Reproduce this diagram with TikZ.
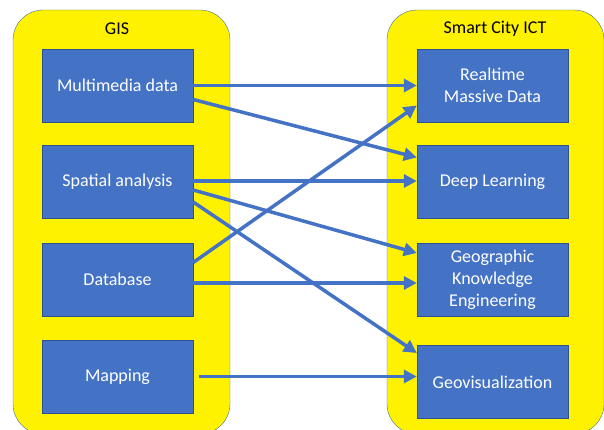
\documentclass[tikz,border=0pt]{standalone}
\usepackage{fontspec}
\setmainfont{Carlito}
\usetikzlibrary{arrows.meta}
\usetikzlibrary{calc}

\definecolor{boxblue}{HTML}{4472C4}
\definecolor{boxedge}{HTML}{2F528F}
\definecolor{groupedge}{HTML}{41719C}

\begin{document}
\begin{tikzpicture}[x=1pt, y=-1pt,
    group/.style={rectangle, draw=groupedge, fill=yellow, rounded corners=30pt, inner sep=0pt, minimum width=217pt, minimum height=424pt},
    item/.style={rectangle, draw=boxedge, fill=boxblue, text=white, inner sep=0pt, minimum width=151pt, minimum height=73pt, align=center, font=\fontsize{18}{22}\selectfont},
    title/.style={font=\fontsize{18}{22}\selectfont},
    link/.style={draw=boxblue, line width=3.5pt, -{Triangle[length=13pt, width=13pt]}}]
      \useasboundingbox (0, 0) rectangle (604, 430);

      \node[group] (gis) at (121.5, 222) {};
      \node[group] (ict) at (495.5, 222) {};
      \node[title] (gist) at (117, 29) {GIS};
      \node[title] (ictt) at (495, 29) {Smart City ICT};

      \node[item] (mm) at (117.5, 85.5) {Multimedia data};
      \node[item] (sa) at (117.5, 182) {Spatial analysis};
      \node[item] (db) at (117.5, 279.5) {Database};
      \node[item] (mp) at (117.5, 376.5) {Mapping};

      \node[item] (rt) at (492.5, 85.5) {Realtime\\Massive Data};
      \node[item] (dl) at (492.5, 181.5) {Deep Learning};
      \node[item] (gk) at (492.5, 279.5) {Geographic\\Knowledge\\Engineering};
      \node[item] (geo) at (492.5, 382) {Geovisualization};

      \draw[link] (mm.east) -- (rt.west);
      \draw[link] ([yshift=-14pt]mm.east) -- ([yshift=24pt]dl.west);
      \draw[link] ([yshift=1pt]sa.east) -- ([yshift=0.5pt]dl.west);
      \draw[link] ([yshift=-8pt]sa.east) -- ([yshift=26.5pt]gk.west);
      \draw[link] ([yshift=-20pt]sa.east) -- ([yshift=29pt]geo.west);
      \draw[link] ([yshift=17pt]db.east) -- ([yshift=-20pt]rt.west);
      \draw[link] ([yshift=-3.5pt]db.east) -- ([yshift=-3.5pt]gk.west);
      \draw[link] ([xshift=6pt]mp.east) -- ([yshift=5.5pt]geo.west);
\end{tikzpicture}
\end{document}
